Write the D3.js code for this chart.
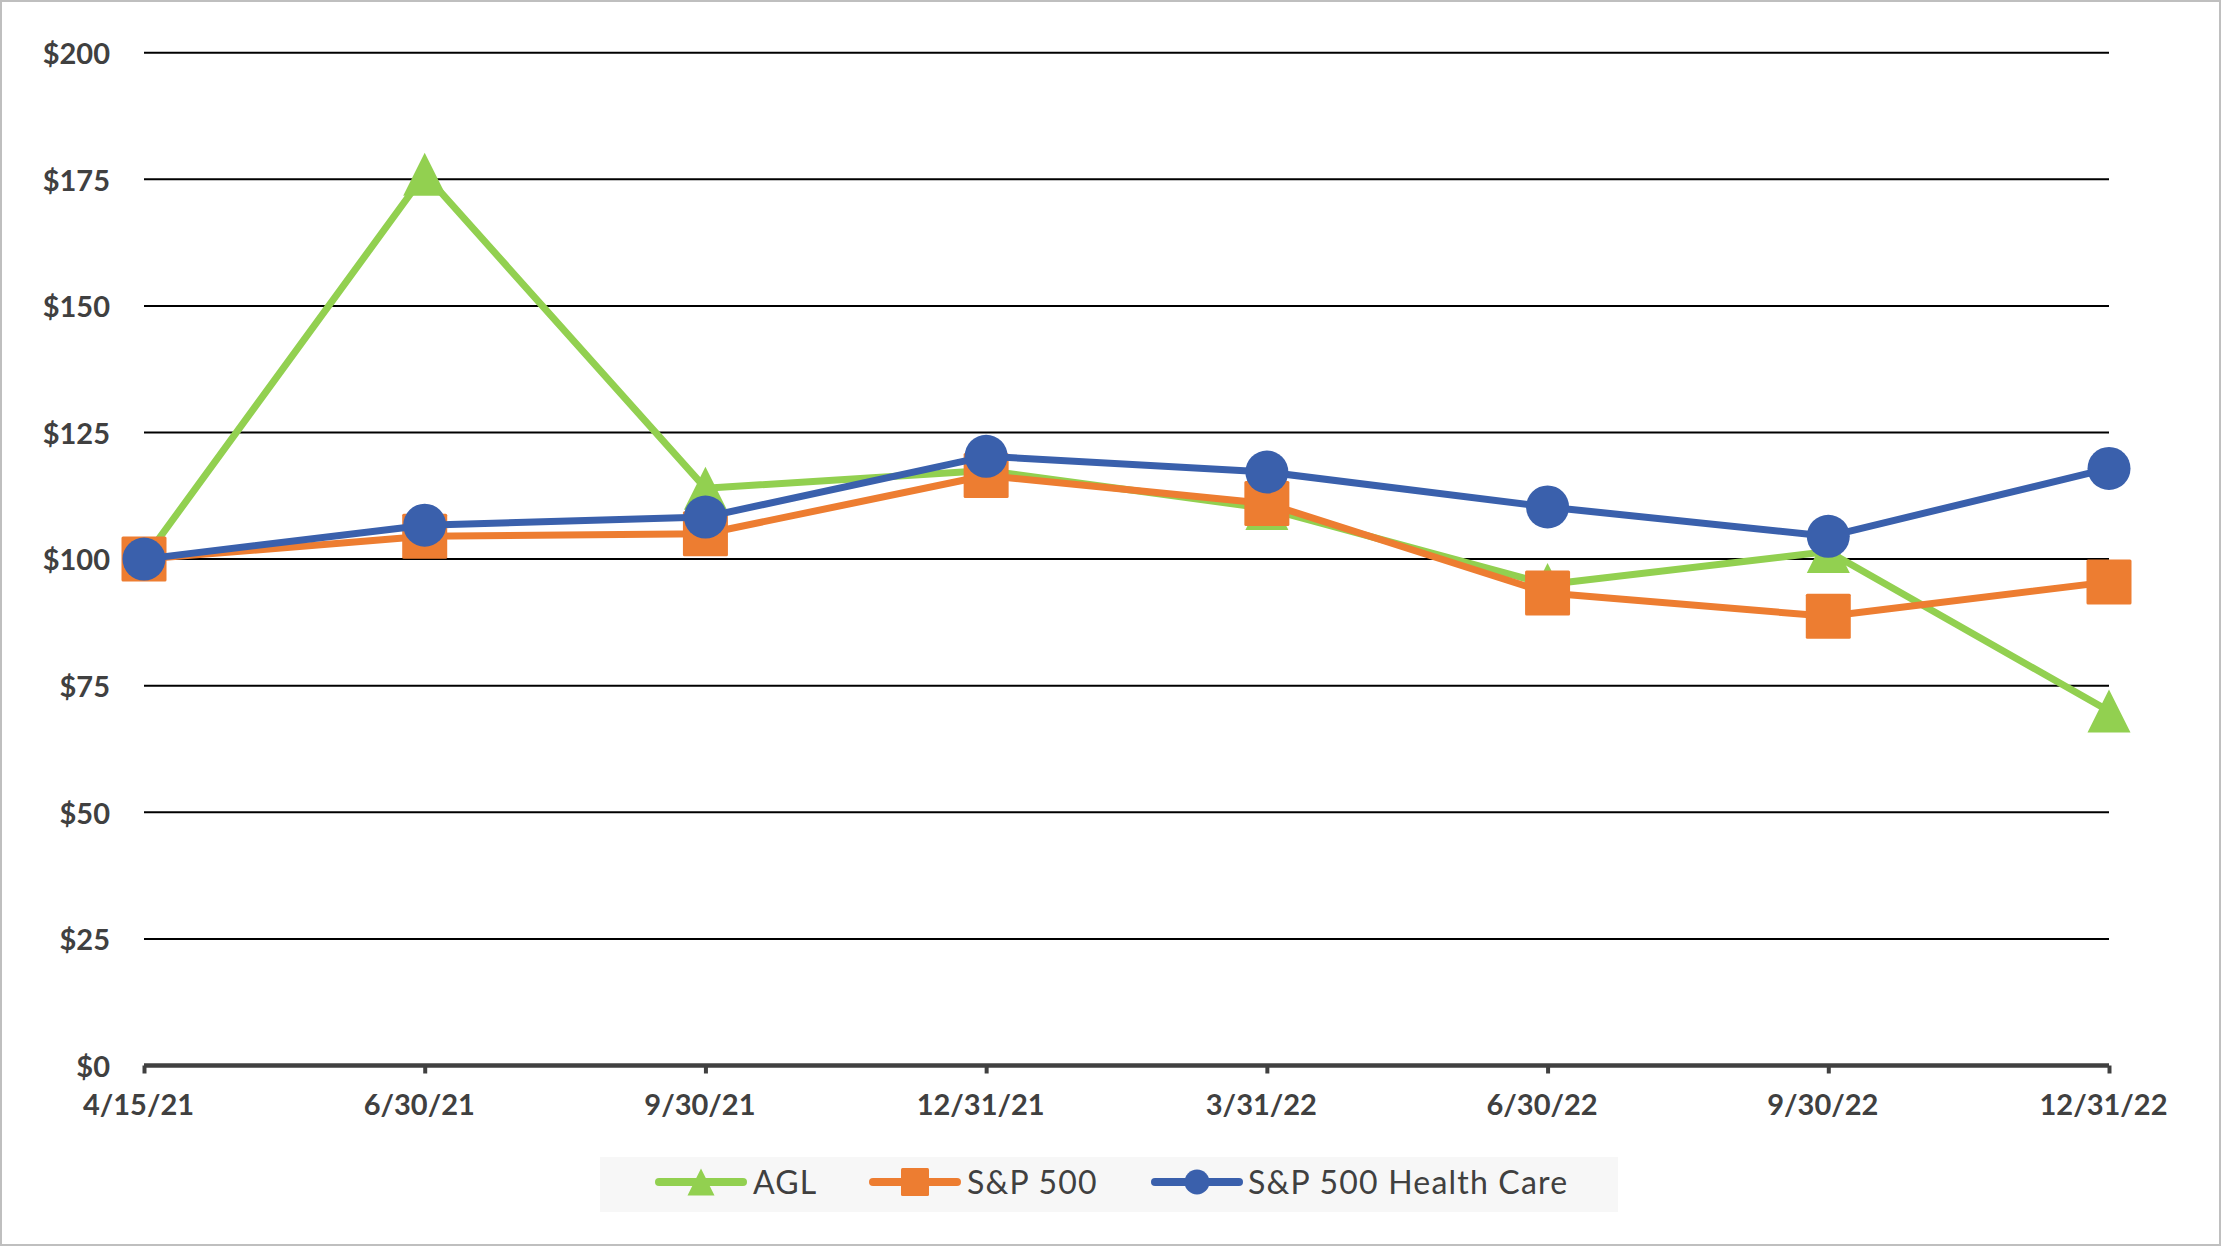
<!DOCTYPE html>
<html>
<head>
<meta charset="utf-8">
<script src="https://cdn.jsdelivr.net/npm/d3@7"></script>
<style>
  html, body { margin: 0; padding: 0; background: #ffffff; }
  svg { display: block; }
</style>
</head>
<body>
<svg id="chart" width="2222" height="1247"></svg>
<script>
// ---- data ----
const categories = ["4/15/21", "6/30/21", "9/30/21", "12/31/21", "3/31/22", "6/30/22", "9/30/22", "12/31/22"];
const aglValues = [100, 176, 114, 117.5, 110, 95, 101.5, 70];
const spValues = [100, 104.5, 105, 116.5, 111, 93.3, 88.7, 95.5];
const hcValues = [100, 106.7, 108.3, 120.3, 117.2, 110.3, 104.5, 117.9];
const yTicks = [0, 25, 50, 75, 100, 125, 150, 175, 200];
const seriesNames = ["AGL", "S&P 500", "S&P 500 Health Care"];

// ---- styles ----
const colors = ["#92D050", "#ED7D31", "#3A60AC"];
const markerTypes = ["triangle", "square", "circle"];
const textColor = "#404040";

const svg = d3.select("#chart");

// outer border
svg.append("rect")
  .attr("x", 1).attr("y", 1).attr("width", 2219).attr("height", 1244)
  .attr("fill", "#ffffff").attr("stroke", "#bfbfbf").attr("stroke-width", 2);

const x = d3.scalePoint().domain(categories).range([144, 2109]);
const y = d3.scaleLinear().domain([0, 200]).range([1065.5, 52.7]);

// gridlines
svg.append("g").selectAll("line")
  .data(yTicks.filter(t => t > 0))
  .join("line")
  .attr("x1", x.range()[0]).attr("x2", x.range()[1])
  .attr("y1", d => y(d)).attr("y2", d => y(d))
  .attr("stroke", "#000000").attr("stroke-width", 2);

// y axis labels
const yAxis = d3.axisLeft(y).tickValues(yTicks).tickFormat(d => "$" + d).tickSize(0).tickPadding(0);
const yg = svg.append("g").attr("transform", "translate(110,0)").call(yAxis);
yg.select(".domain").remove();
yg.selectAll("text")
  .attr("fill", textColor)
  .style("font-family", "Lato, 'Open Sans', sans-serif")
  .style("font-weight", "700")
  .style("font-size", "29px")
  .attr("dy", "0.37em");

// x axis
const xAxis = d3.axisBottom(x).tickSize(8).tickPadding(21);
const xg = svg.append("g").attr("transform", `translate(0,${y(0)})`).call(xAxis);
xg.select(".domain")
  .attr("stroke", textColor).attr("stroke-width", 4.5)
  .attr("d", `M${x.range()[0]},0H${x.range()[1]}`);
xg.selectAll(".tick line").attr("stroke", textColor).attr("stroke-width", 4);
xg.selectAll("text")
  .attr("fill", textColor)
  .attr("dx", "-6")
  .style("font-family", "Lato, 'Open Sans', sans-serif")
  .style("font-weight", "700")
  .style("font-size", "29px");

// markers
function drawMarker(g, type, cx, cy, size, color) {
  if (type === "triangle") {
    const w = size, h = size;
    g.append("path")
      .attr("d", `M${cx},${cy - h / 2}L${cx + w / 2},${cy + h / 2}L${cx - w / 2},${cy + h / 2}Z`)
      .attr("fill", color);
  } else if (type === "square") {
    g.append("rect")
      .attr("x", cx - size / 2).attr("y", cy - size / 2)
      .attr("width", size).attr("height", size)
      .attr("rx", 1.5)
      .attr("fill", color);
  } else {
    g.append("circle").attr("cx", cx).attr("cy", cy).attr("r", size / 2).attr("fill", color);
  }
}

const allSeries = [aglValues, spValues, hcValues];
const line = d3.line().x((d, i) => x(categories[i])).y(d => y(d));
const markerSizes = [43, 45, 43];

allSeries.forEach((vals, s) => {
  const g = svg.append("g");
  g.append("path")
    .datum(vals)
    .attr("d", line)
    .attr("fill", "none")
    .attr("stroke", colors[s])
    .attr("stroke-width", 7)
    .attr("stroke-linejoin", "round");
  vals.forEach((v, i) => drawMarker(g, markerTypes[s], x(categories[i]), y(v), markerSizes[s], colors[s]));
});

// legend
const lg = svg.append("g");
lg.append("rect")
  .attr("x", 600).attr("y", 1157).attr("width", 1018).attr("height", 55)
  .attr("fill", "#f7f7f7");
const legendLineStarts = [655, 869, 1151];
const legendTextStarts = [753, 967, 1248];
const legendY = 1182;
seriesNames.forEach((name, s) => {
  const x0 = legendLineStarts[s];
  lg.append("line")
    .attr("x1", x0 + 4).attr("x2", x0 + 88)
    .attr("y1", legendY).attr("y2", legendY)
    .attr("stroke", colors[s]).attr("stroke-width", 8).attr("stroke-linecap", "round");
  drawMarker(lg, markerTypes[s], x0 + 46, legendY, [27, 28, 25][s], colors[s]);
  lg.append("text")
    .attr("x", legendTextStarts[s]).attr("y", legendY)
    .attr("dy", "0.36em")
    .attr("fill", textColor)
    .style("font-family", "Lato, 'Open Sans', sans-serif")
    .style("font-size", "32px")
    .style("letter-spacing", "1.2px")
    .text(name);
});
</script>
</body>
</html>
